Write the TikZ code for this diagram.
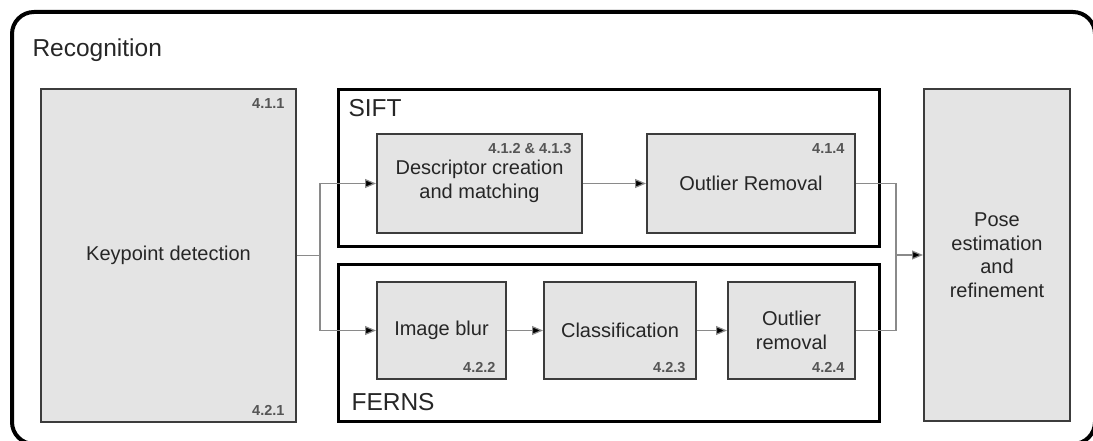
\documentclass[tikz,border=0pt]{standalone}
\usepackage{fontspec}
\setmainfont{Liberation Sans}
\usetikzlibrary{arrows.meta,calc}
\definecolor{boxfill}{HTML}{E4E4E4}
\definecolor{boxline}{HTML}{3C3C3C}
\definecolor{numtext}{HTML}{555555}
\definecolor{wire}{HTML}{8A8A8A}
\tikzset{
  stage/.style={draw=boxline, line width=2pt, fill=boxfill, anchor=north west, inner sep=0pt},
  group/.style={draw=black, line width=3pt, anchor=north west, inner sep=0pt},
  boxtext/.style={font=\fontsize{20}{23.5}\selectfont, align=center, text=black!85},
  grouptitle/.style={font=\fontsize{24.5}{28}\selectfont, anchor=west, text=black!85},
  secnum/.style={font=\fontsize{14.5}{16}\selectfont\bfseries, text=numtext},
  wireline/.style={draw=wire, line width=1.2pt},
  flow/.style={wireline, -{Triangle[length=11pt,width=9pt,fill=black]}},
}
\begin{document}
\begin{tikzpicture}[x=1pt,y=-1pt]
\useasboundingbox (0,0) rectangle (1093,441);
% outer frame
\draw[line width=4pt, rounded corners=22pt] (12,12) rectangle (1095,444);
\node[grouptitle] (rec) at (29,50) {Recognition};

% keypoint detection
\node[stage, minimum width=255pt, minimum height=333pt] (kp) at (40,88) {};
\node[boxtext] at (kp.center) {Keypoint detection};
\node[secnum, anchor=north east] at ($(kp.north east)+(-9,7)$) {4.1.1};
\node[secnum, anchor=south east] at ($(kp.south east)+(-9,-4)$) {4.2.1};

% SIFT group
\node[group, minimum width=541pt, minimum height=157pt] (sift) at (337,88) {};
\node[grouptitle] at (345,108) {SIFT};
\node[stage, minimum width=205pt, minimum height=99pt] (desc) at (376,133) {};
\node[boxtext] at ($(desc.center)+(0,-2)$) {Descriptor creation\\and matching};
\node[secnum, anchor=north east] at ($(desc.north east)+(-8,7)$) {4.1.2 \& 4.1.3};
\node[stage, minimum width=208pt, minimum height=99pt] (orS) at (646,133) {};
\node[boxtext] at (orS.center) {Outlier Removal};
\node[secnum, anchor=north east] at ($(orS.north east)+(-8,7)$) {4.1.4};

% FERNS group
\node[group, minimum width=541pt, minimum height=157pt] (ferns) at (337,263) {};
\node[grouptitle] at (348,402) {FERNS};
\node[stage, minimum width=129pt, minimum height=97pt] (blur) at (376,281) {};
\node[boxtext] at (blur.center) {Image blur};
\node[secnum, anchor=south east] at ($(blur.south east)+(-8,-4)$) {4.2.2};
\node[stage, minimum width=152pt, minimum height=97pt] (cls) at (543,281) {};
\node[boxtext] at (cls.center) {Classification};
\node[secnum, anchor=south east] at ($(cls.south east)+(-8,-4)$) {4.2.3};
\node[stage, minimum width=127pt, minimum height=97pt] (orF) at (727,281) {};
\node[boxtext] at (orF.center) {Outlier\\removal};
\node[secnum, anchor=south east] at ($(orF.south east)+(-8,-4)$) {4.2.4};

% pose estimation
\node[stage, minimum width=146pt, minimum height=332pt] (pose) at (923,88) {};
\node[boxtext] at (pose.center) {Pose\\estimation\\and\\refinement};

% connectors
\coordinate (split) at (320,0);
\coordinate (join) at (896,0);
\draw[wireline] (kp.east) -- (kp.east -| split);
\draw[flow] (kp.east -| split) |- (desc.west);
\draw[flow] (kp.east -| split) |- (blur.west);
\draw[flow] (desc.east) -- (orS.west);
\draw[flow] (blur.east) -- (cls.west);
\draw[flow] (cls.east) -- (orF.west);
\draw[wireline] (orS.east) -| (pose.west -| join);
\draw[wireline] (orF.east) -| (pose.west -| join);
\draw[flow] (pose.west -| join) -- (pose.west);
\end{tikzpicture}
\end{document}
